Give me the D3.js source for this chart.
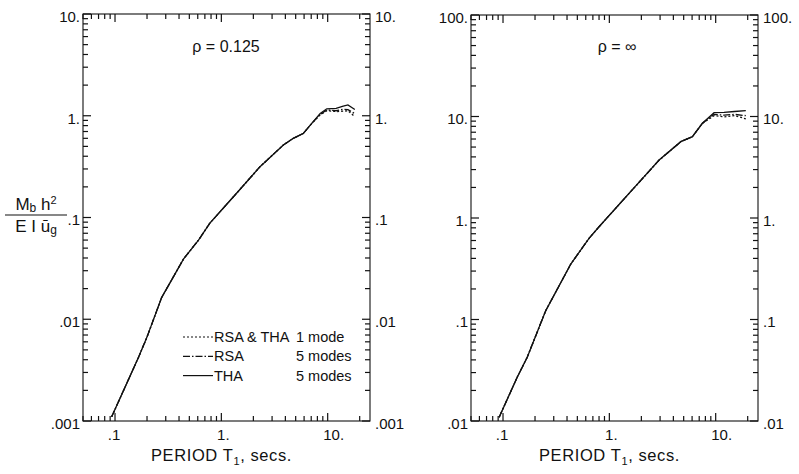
<!DOCTYPE html>
<html><head><meta charset="utf-8">
<script src="https://cdn.jsdelivr.net/npm/d3@7"></script>
<style>body{margin:0;background:#fff}</style>
</head><body>
<svg id="c" width="799" height="474" xmlns="http://www.w3.org/2000/svg"></svg>
<script>
// ---------- DATA ----------
// Left panel: rho = 0.125
const periodsA      = [0.093, 0.166, 0.199, 0.275, 0.44, 0.61, 0.78, 1.3, 2.31, 3.83, 4.75, 5.9, 7.08, 8.5, 9.8, 12, 14, 15.5, 18];
const oneModeA      = [0.0011, 0.0042, 0.0066, 0.0164, 0.039, 0.060, 0.088, 0.160, 0.316, 0.516, 0.60, 0.67, 0.84, 1.02, 1.12, 1.10, 1.11, 1.12, 0.98];
const rsaFiveA      = [0.0011, 0.0042, 0.0066, 0.0164, 0.039, 0.060, 0.088, 0.160, 0.316, 0.516, 0.60, 0.67, 0.84, 1.03, 1.14, 1.12, 1.16, 1.15, 1.05];
const thaFiveA      = [0.0011, 0.0042, 0.0066, 0.0164, 0.039, 0.060, 0.088, 0.160, 0.316, 0.516, 0.60, 0.67, 0.84, 1.05, 1.17, 1.18, 1.24, 1.28, 1.15];
// Right panel: rho = infinity
const periodsB      = [0.092, 0.136, 0.169, 0.252, 0.434, 0.644, 0.80, 1.64, 2.94, 4.7, 6.04, 7.5, 9.66, 12, 15, 19.2];
const oneModeB      = [0.0109, 0.027, 0.0425, 0.122, 0.352, 0.63, 0.82, 1.89, 3.72, 5.65, 6.33, 8.57, 10.2, 9.9, 10.2, 9.5];
const rsaFiveB      = [0.0109, 0.027, 0.0425, 0.122, 0.352, 0.63, 0.82, 1.89, 3.72, 5.65, 6.33, 8.57, 10.5, 10.3, 10.5, 10.2];
const thaFiveB      = [0.0109, 0.027, 0.0425, 0.122, 0.352, 0.63, 0.82, 1.89, 3.72, 5.65, 6.33, 8.57, 10.9, 11.0, 11.2, 11.4];

const xTickValues  = [0.1, 1, 10];
const xTickLabels  = [".1", "1.", "10."];
const yTickValuesA = [0.001, 0.01, 0.1, 1, 10];
const yTickLabelsA = [".001", ".01", ".1", "1.", "10."];
const yTickValuesB = [0.01, 0.1, 1, 10, 100];
const yTickLabelsB = [".01", ".1", "1.", "10.", "100."];
const legendNames  = ["RSA & THA", "RSA", "THA"];
const legendModes  = ["1 mode", "5 modes", "5 modes"];
const panelTitles  = ["ρ = 0.125", "ρ = ∞"];
const xAxisTitle   = "PERIOD T";

// ---------- DRAW ----------
const svg = d3.select("#c");
const FONT = "'Liberation Sans', Arial, sans-serif";
const INK = "#111";
const dashes = ["2,2", "7,2,1.5,2", null];

function panel(cfg) {
  const {x0, x1, y0, y1, yDomain, yVals, yLabels, periods, series, title, titleX} = cfg;
  const x = d3.scaleLog().domain([0.05, 25]).range([x0, x1]);
  const y = d3.scaleLog().domain(yDomain).range([y1, y0]);
  const g = svg.append("g");
  const isMajor = (v, list) => list.some(t => Math.abs(t - v) / t < 1e-9);

  // inward ticks on all four sides
  const xt = x.ticks().map(v => ({v, len: isMajor(v, xTickValues) ? 8 : 5}));
  const yt = y.ticks().map(v => ({v, len: isMajor(v, yVals) ? 8 : 5}));
  const tg = g.append("g");
  const tick = sel => sel.attr("stroke", INK).attr("stroke-width", 1.2);
  tg.selectAll(".tb").data(xt).enter().append("line").call(tick)
    .attr("x1", d => x(d.v)).attr("x2", d => x(d.v)).attr("y1", y1).attr("y2", d => y1 - d.len);
  tg.selectAll(".tt").data(xt).enter().append("line").call(tick)
    .attr("x1", d => x(d.v)).attr("x2", d => x(d.v)).attr("y1", y0).attr("y2", d => y0 + d.len);
  tg.selectAll(".tl").data(yt).enter().append("line").call(tick)
    .attr("y1", d => y(d.v)).attr("y2", d => y(d.v)).attr("x1", x0).attr("x2", d => x0 + d.len);
  tg.selectAll(".tr").data(yt).enter().append("line").call(tick)
    .attr("y1", d => y(d.v)).attr("y2", d => y(d.v)).attr("x1", x1).attr("x2", d => x1 - d.len);

  g.append("rect").attr("x", x0).attr("y", y0).attr("width", x1 - x0).attr("height", y1 - y0)
    .attr("fill", "none").attr("stroke", INK).attr("stroke-width", 1.1);

  // x tick labels
  g.selectAll(".xl").data(xTickValues).enter().append("text")
    .attr("x", (d, i) => x(d) + (i === 0 ? -1 : (i === 2 ? 6 : 2)))
    .attr("y", y1 + 19).attr("text-anchor", "middle")
    .attr("font-family", FONT).attr("font-size", 15).attr("fill", INK)
    .text((d, i) => xTickLabels[i]);
  // y tick labels left and right
  g.selectAll(".yl").data(yVals).enter().append("text")
    .attr("x", x0 - 3).attr("y", d => y(d) + 4).attr("dominant-baseline", "middle")
    .attr("text-anchor", "end").attr("font-family", FONT).attr("font-size", 15).attr("fill", INK)
    .text((d, i) => yLabels[i]);
  g.selectAll(".yr").data(yVals).enter().append("text")
    .attr("x", x1 + 5).attr("y", d => y(d) + 4).attr("dominant-baseline", "middle")
    .attr("text-anchor", "start").attr("font-family", FONT).attr("font-size", 15).attr("fill", INK)
    .text((d, i) => yLabels[i]);

  // x title
  const t = g.append("text").attr("x", (x0 + x1) / 2 - 5).attr("y", y1 + 40)
    .attr("text-anchor", "middle").attr("font-family", FONT).attr("font-size", 16.5)
    .attr("letter-spacing", 0.6).attr("fill", INK);
  t.append("tspan").text(xAxisTitle);
  t.append("tspan").attr("font-size", 11).attr("dy", 4).text("1");
  t.append("tspan").attr("dy", -4).text(", secs.");

  // panel title
  g.append("text").attr("x", titleX).attr("y", 52).attr("text-anchor", "middle")
    .attr("font-family", FONT).attr("font-size", 16).attr("fill", INK).text(title);

  // curves
  const line = d3.line().x(d => x(d[0])).y(d => y(d[1]));
  series.forEach((vals, i) => {
    g.append("path").datum(periods.map((p, k) => [p, vals[k]]))
      .attr("d", line).attr("fill", "none").attr("stroke", INK)
      .attr("stroke-width", 1.3).attr("stroke-dasharray", dashes[i]);
  });
  return {x, y};
}

panel({x0: 83, x1: 370, y0: 14, y1: 421, yDomain: [0.001, 10], yVals: yTickValuesA, yLabels: yTickLabelsA,
       periods: periodsA, series: [oneModeA, rsaFiveA, thaFiveA], title: panelTitles[0], titleX: 226});
panel({x0: 471, x1: 758, y0: 15, y1: 421, yDomain: [0.01, 100], yVals: yTickValuesB, yLabels: yTickLabelsB,
       periods: periodsB, series: [oneModeB, rsaFiveB, thaFiveB], title: panelTitles[1], titleX: 617});

// legend (left panel)
const lg = svg.append("g");
legendNames.forEach((name, i) => {
  const yy = 337 + i * 19.3;
  lg.append("line").attr("x1", 183).attr("x2", 213).attr("y1", yy).attr("y2", yy)
    .attr("stroke", INK).attr("stroke-width", 1.2).attr("stroke-dasharray", dashes[i]);
  lg.append("text").attr("x", 214).attr("y", yy + 5).attr("font-family", FONT).attr("font-size", 14.5)
    .attr("fill", INK).text(name);
  lg.append("text").attr("x", 296).attr("y", yy + 5).attr("font-family", FONT).attr("font-size", 14.5)
    .attr("fill", INK).text(legendModes[i]);
});

// y-axis label fraction
const yl = svg.append("g").attr("font-family", FONT).attr("fill", INK);
const num = yl.append("text").attr("x", 36).attr("y", 210).attr("text-anchor", "middle").attr("font-size", 17);
num.append("tspan").text("M");
num.append("tspan").attr("font-size", 12).attr("dy", 2).text("b");
num.append("tspan").attr("dy", -2).text(" h");
num.append("tspan").attr("font-size", 11).attr("dy", -6).text("2");
yl.append("line").attr("x1", 5).attr("x2", 67).attr("y1", 215).attr("y2", 215).attr("stroke", INK).attr("stroke-width", 1.2);
const den = yl.append("text").attr("x", 36).attr("y", 232).attr("text-anchor", "middle").attr("font-size", 17);
den.append("tspan").text("E I ū");
den.append("tspan").attr("font-size", 12).attr("dy", 2).text("g");
</script>
</body></html>
